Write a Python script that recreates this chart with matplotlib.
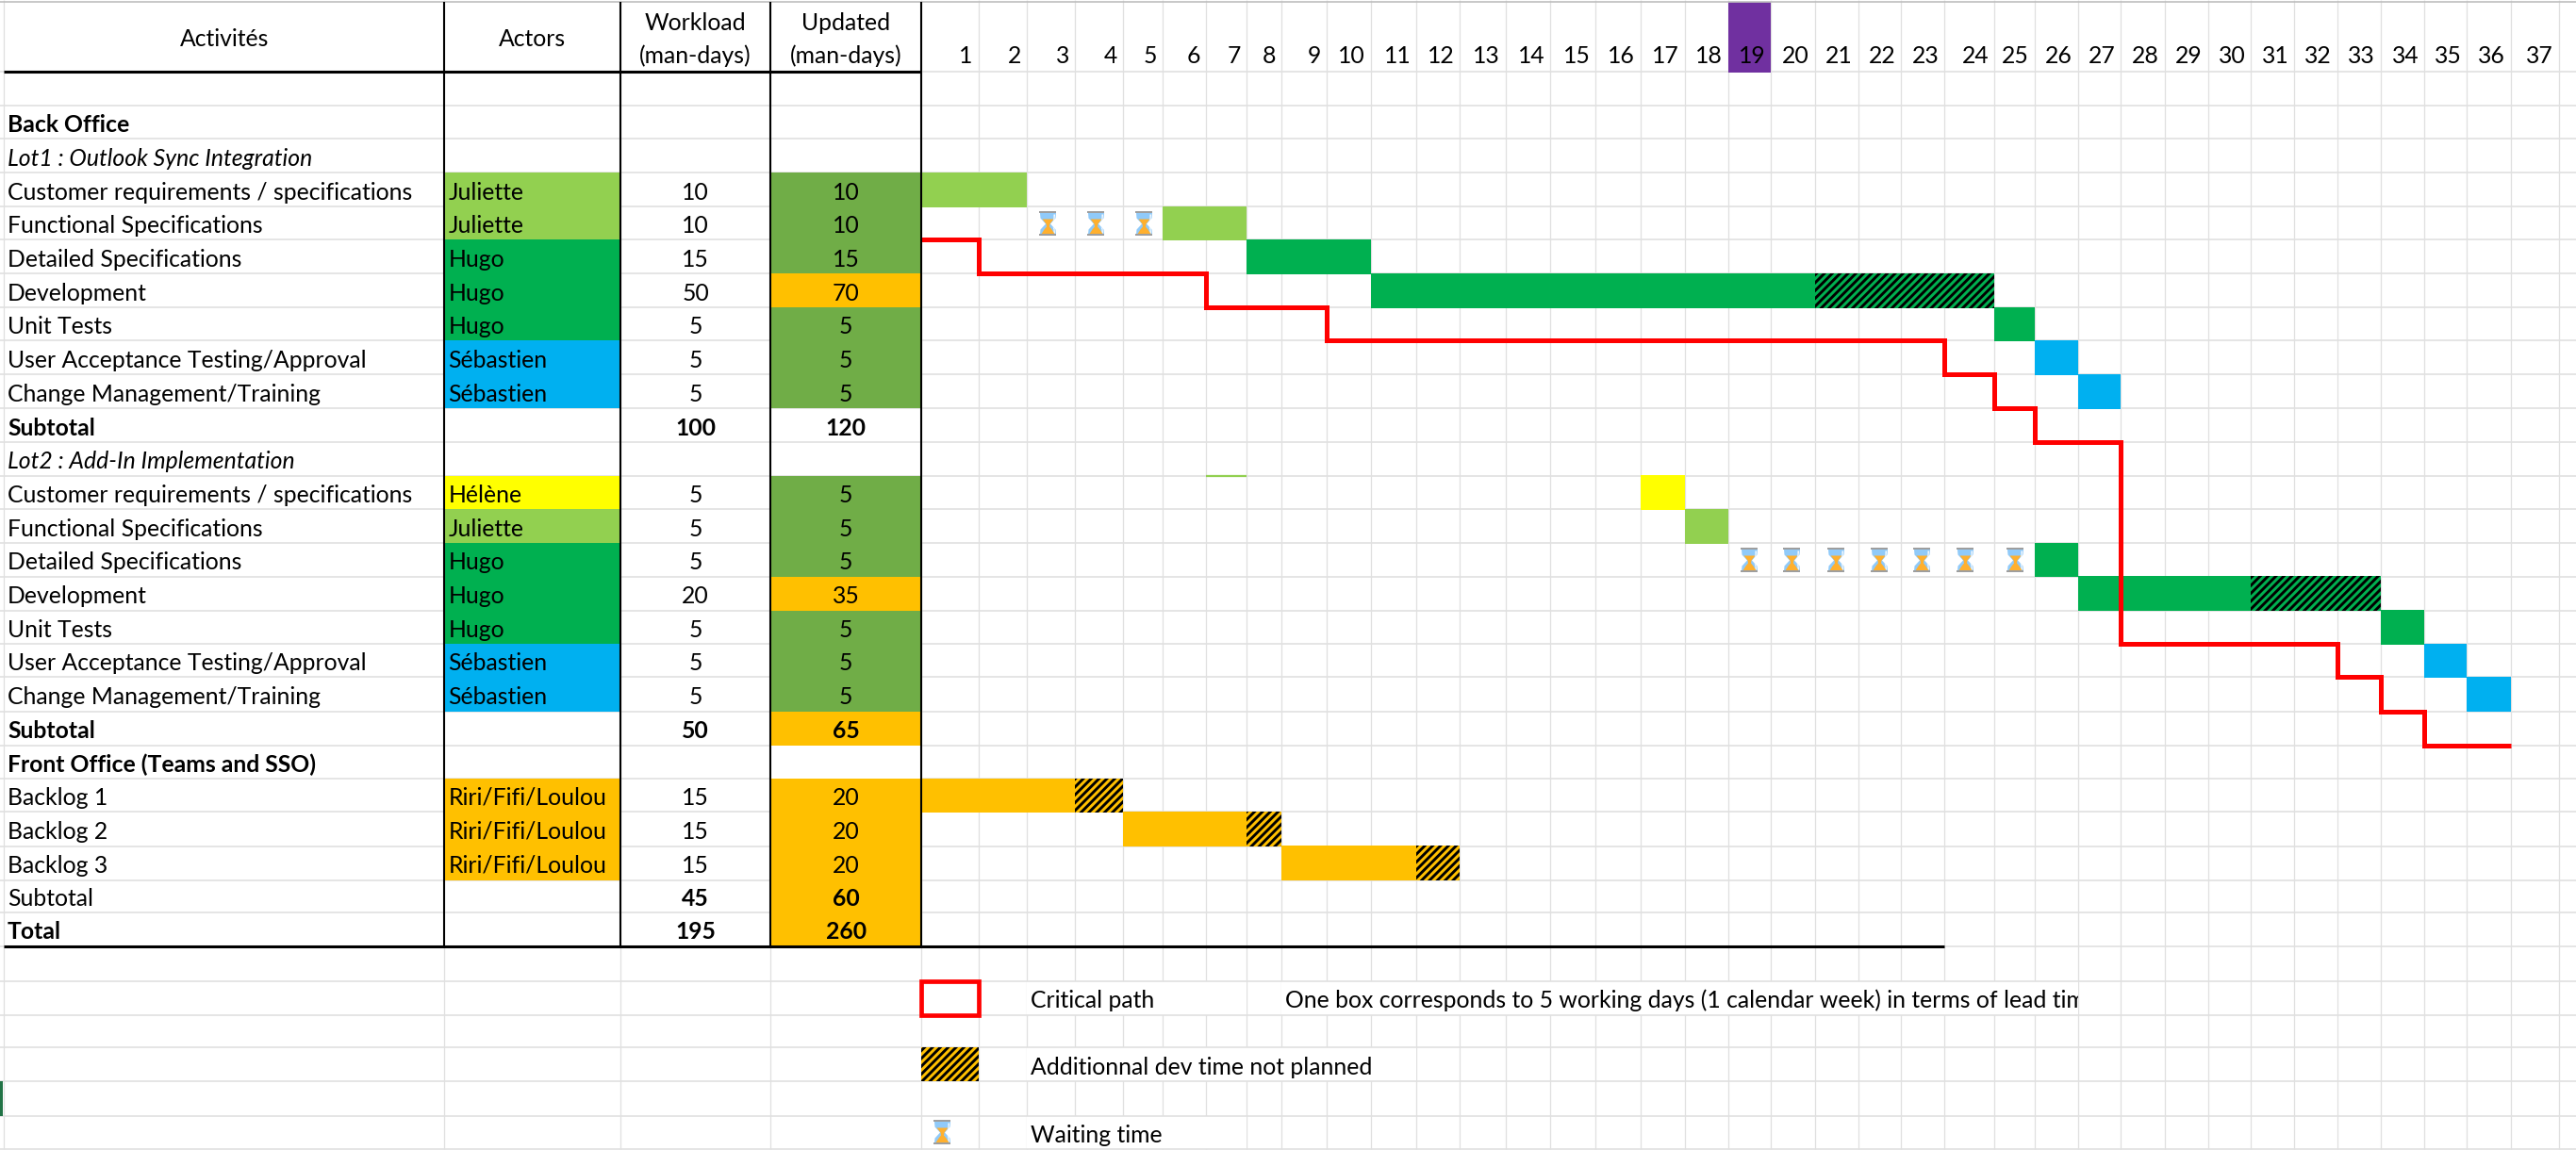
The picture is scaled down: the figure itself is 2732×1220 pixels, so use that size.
#plot.py
# Project planning sheet (Gantt in spreadsheet form)
import numpy as np
import matplotlib
matplotlib.use('Agg')
import matplotlib.pyplot as plt
from matplotlib.patches import Rectangle
from matplotlib.path import Path
from matplotlib.transforms import offset_copy

# Table content, from row 2 (Back Office) to row 26 (Total)
activities = ['Back Office', 'Lot1 : Outlook Sync Integration',
              'Customer requirements / specifications', 'Functional Specifications',
              'Detailed Specifications', 'Development', 'Unit Tests',
              'User Acceptance Testing/Approval', 'Change Management/Training', 'Subtotal',
              'Lot2 : Add-In Implementation',
              'Customer requirements / specifications', 'Functional Specifications',
              'Detailed Specifications', 'Development', 'Unit Tests',
              'User Acceptance Testing/Approval', 'Change Management/Training', 'Subtotal',
              'Front Office (Teams and SSO)', 'Backlog 1', 'Backlog 2', 'Backlog 3',
              'Subtotal', 'Total']
label_style = ['b', 'i', '', '', '', '', '', '', '', 'b', 'i', '', '', '', '', '', '', '', 'b',
               'b', '', '', '', '', 'b']
actors = ['', '', 'Juliette', 'Juliette', 'Hugo', 'Hugo', 'Hugo', 'Sébastien', 'Sébastien', '',
          '', 'Hélène', 'Juliette', 'Hugo', 'Hugo', 'Hugo', 'Sébastien', 'Sébastien', '',
          '', 'Riri/Fifi/Loulou', 'Riri/Fifi/Loulou', 'Riri/Fifi/Loulou', '', '']
workload = ['', '', 10, 10, 15, 50, 5, 5, 5, 100, '', 5, 5, 5, 20, 5, 5, 5, 50, '', 15, 15, 15, 45, 195]
updated = ['', '', 10, 10, 15, 70, 5, 5, 5, 120, '', 5, 5, 5, 35, 5, 5, 5, 65, '', 20, 20, 20, 60, 260]
updated_state = ['', '', 'ok', 'ok', 'ok', 'late', 'ok', 'ok', 'ok', '', '', 'ok', 'ok', 'ok', 'late',
                 'ok', 'ok', 'ok', 'late', '', 'late', 'late', 'late', 'late', 'late']
weeks = list(range(1, 38))
current_week = 19

# Gantt bars: row, weeks elapsed before start, planned weeks, unplanned weeks
bar_rows = [4, 5, 6, 7, 8, 9, 10, 13, 14, 15, 16, 17, 18, 19, 22, 23, 24]
bar_start = [0, 5, 7, 10, 24, 25, 26, 16, 17, 25, 26, 33, 34, 35, 0, 4, 8]
bar_planned = [2, 2, 3, 10, 1, 1, 1, 1, 1, 1, 4, 1, 1, 1, 3, 3, 3]
bar_extra = [0, 0, 0, 4, 0, 0, 0, 0, 0, 0, 3, 0, 0, 0, 1, 1, 1]

wait_rows = [5, 5, 5, 15, 15, 15, 15, 15, 15, 15]
wait_weeks = [3, 4, 5, 19, 20, 21, 22, 23, 24, 25]

# Critical path, week boundary and row boundary of each step
path_weeks = [0, 1, 6, 9, 23, 24, 25, 27, 32, 33, 34, 36]
path_rows = [6, 7, 8, 9, 10, 11, 12, 18, 19, 20, 21, 21]

ACTOR_COLORS = {'Juliette': '#92D050', 'Hugo': '#00B050', 'Sébastien': '#00B0F0',
                'Hélène': '#FFFF00', 'Riri/Fifi/Loulou': '#FFC000'}
STATE_COLORS = {'ok': '#70AD47', 'late': '#FFC000'}
GRID = '#E0E0E0'
FIRST_ROW = 2

# Sheet layout: pixel position of the column and row boundaries
X_EDGES = [0, 4, 471.4, 658, 817.3, 977.2, 1037.5, 1088.6, 1139.7, 1190.8, 1232.7, 1278.6,
           1321.6, 1359, 1406.6, 1453.7, 1501.9, 1548.4, 1596.6, 1644.3, 1691.9, 1739.5,
           1786.6, 1832.5, 1878.4, 1924.5, 1970.7, 2016.3, 2062.4, 2114.7, 2157.5, 2203.7,
           2249.3, 2295.5, 2341.6, 2387.2, 2433.4, 2478.5, 2524.6, 2570.8, 2616.4, 2662.5,
           2713.7, 2760]
Y_EDGES = [0, 76, 112.3, 147.3, 183.3, 219.3, 254.3, 290.3, 326.3, 361.3, 397.3, 433.3, 469.3,
           504.5, 540.4, 576.3, 611.7, 647.5, 683.4, 718.3, 754.7, 790.5, 826.4, 861.3, 897.6,
           933.5, 968.4, 1003.8, 1040.6, 1076.5, 1111.4, 1147.3, 1183.6, 1219, 1255]
x_index = np.arange(len(X_EDGES)) - 5.0
y_index = np.arange(len(Y_EDGES), dtype=float)


def x_forward(v):
    return np.interp(v, x_index, X_EDGES)


def x_inverse(p):
    return np.interp(p, X_EDGES, x_index)


def y_forward(v):
    return np.interp(v, y_index, Y_EDGES)


def y_inverse(p):
    return np.interp(p, Y_EDGES, y_index)


def glass_part(points):
    # the extra zero length segment keeps all the parts at the same marker scale
    verts = points + [points[0], (13.5, 13.5), (13.5, 13.5)]
    codes = [Path.MOVETO] + [Path.LINETO] * (len(points) - 1) + [Path.CLOSEPOLY, Path.MOVETO, Path.LINETO]
    return Path(verts, codes)


HOURGLASS = [
    ('#90CAF9', [(-8.5, 11.5), (8.5, 11.5), (8, 6), (2.5, 0), (8, -6), (8.5, -11.5), (-8.5, -11.5),
                 (-8, -6), (-2.5, 0), (-8, 6)]),
    ('#FFFFFF', [(6, 10), (7.5, 10), (7, 5), (5, 3), (6, 6)]),
    ('#FFFFFF', [(5, -3), (7, -5), (7.5, -10), (6, -10), (6, -6)]),
    ('#FFB02E', [(-6, 5), (6, 5), (2, 0), (1.5, -3), (4, -6), (7.5, -11.5), (-7.5, -11.5), (-4, -6),
                 (-1.5, -3), (-2, 0)]),
    ('#9E9E9E', [(-9.5, 11.5), (9.5, 11.5), (9.5, 13.5), (-9.5, 13.5)]),
    ('#9E9E9E', [(-9.5, -13.5), (9.5, -13.5), (9.5, -11.5), (-9.5, -11.5)]),
]


def draw_hourglass(ax, xs, ys, transform):
    for color, points in HOURGLASS:
        ax.plot(xs, ys, ls='none', marker=glass_part(points), ms=27 * 0.72, mew=0, mfc=color,
                transform=transform, zorder=6)


plt.rcParams['font.family'] = ['Lato', 'DejaVu Sans']
plt.rcParams['hatch.linewidth'] = 2.1
FONT_SIZE = 17.8
BASE = 0.79

fig = plt.figure(figsize=(27.32, 12.2), dpi=100)
ax = fig.add_axes([0, 0, 1, 1])
ax.set_xscale('function', functions=(x_forward, x_inverse))
ax.set_yscale('function', functions=(y_forward, y_inverse))
ax.set_xlim(-5, float(x_inverse(2732)))
ax.set_ylim(float(y_inverse(1220)), 0)
ax.set_autoscale_on(False)
ax.axis('off')

left_4 = offset_copy(ax.transData, fig=fig, x=4 * 0.72, y=0, units='points')
right_6 = offset_copy(ax.transData, fig=fig, x=-5.7 * 0.72, y=0, units='points')
glass_tf = offset_copy(ax.transData, fig=fig, x=22 * 0.72, y=0, units='points')

# Sheet grid
ax.vlines(x_index[1:-1], 0, 33, color=GRID, lw=0.95, zorder=1)
# merged legend cells hide the grid
ax.barh([28, 28, 30, 32], [5, 18, 9, 5], left=[2, 8, 2, 2], height=1, align='edge', color='white',
        linewidth=0, zorder=1.5)
ax.hlines(y_index[1:34], -5, 38, color=GRID, lw=1.2, zorder=2)
ax.hlines(0.02, -5, 38, color='#BFBFBF', lw=1.2, zorder=7)

# Header
ax.bar(current_week - 1, 1, 1, bottom=0.03, align='edge', color='#7030A0', linewidth=0, zorder=3)
ax.text(-3.5, 0.65, 'Activités', ha='center', va='baseline', fontsize=FONT_SIZE, zorder=8)
ax.text(-2.5, 0.65, 'Actors', ha='center', va='baseline', fontsize=FONT_SIZE, zorder=8)
for col, title in [(-1.5, 'Workload'), (-0.5, 'Updated')]:
    ax.text(col, 0.415, title, ha='center', va='baseline', fontsize=FONT_SIZE, zorder=8)
    ax.text(col, 0.885, '(man-days)', ha='center', va='baseline', fontsize=FONT_SIZE, zorder=8)
for w in weeks:
    ax.text(w, 0.885, str(w), ha='right', va='baseline', fontsize=FONT_SIZE, transform=right_6, zorder=8)

# Table rows
for i, label in enumerate(activities):
    row = FIRST_ROW + i
    base = row + BASE
    bold = 'bold' if label_style[i] == 'b' else 'normal'
    italic = 'italic' if label_style[i] == 'i' else 'normal'
    ax.text(-4, base, label, ha='left', va='baseline', fontsize=FONT_SIZE, fontweight=bold,
            fontstyle=italic, transform=left_4, zorder=8)
    if actors[i]:
        ax.barh(row, 1, left=-3, height=1, align='edge', color=ACTOR_COLORS[actors[i]], linewidth=0, zorder=3)
        ax.text(-3, base, actors[i], ha='left', va='baseline', fontsize=FONT_SIZE, transform=left_4, zorder=8)
    if updated_state[i]:
        ax.barh(row, 1, left=-1, height=1, align='edge', color=STATE_COLORS[updated_state[i]], linewidth=0, zorder=3)
    value_weight = 'bold' if label in ('Subtotal', 'Total') else 'normal'
    ax.text(-1.5, base, str(workload[i]), ha='center', va='baseline', fontsize=FONT_SIZE,
            fontweight=value_weight, zorder=8)
    ax.text(-0.5, base, str(updated[i]), ha='center', va='baseline', fontsize=FONT_SIZE,
            fontweight=value_weight, zorder=8)
# Front Office sits between two orange cells but stays white
ax.barh(21, 1, left=-1, height=1, align='edge', color='white', linewidth=0, zorder=3)

# Gantt bars
for row, start, planned, extra in zip(bar_rows, bar_start, bar_planned, bar_extra):
    color = ACTOR_COLORS[actors[row - FIRST_ROW]]
    ax.barh(row - 0.02, planned + extra, left=start, height=1.04, align='edge', color=color, linewidth=0, zorder=3)
    if extra:
        ax.barh(row - 0.02, extra, left=start + planned, height=1.04, align='edge', color=color,
                edgecolor='black', hatch='////', linewidth=0, zorder=3.5)
# thin leftover mark above Lot2 customer requirements
ax.hlines(13, 6, 7, color='#92D050', lw=1.6, zorder=3)

draw_hourglass(ax, [w - 1 for w in wait_weeks], [r + 0.5 for r in wait_rows], glass_tf)

ax.step(path_weeks, path_rows, where='post', color='#FF0000', lw=3.6, solid_joinstyle='miter',
        solid_capstyle='butt', zorder=5)

# Black table rules
ax.vlines([-3, -2, -1, 0], 0.03, 27, color='black', lw=1.5, zorder=7)
ax.hlines(1, -4, 0, color='black', lw=2.2, zorder=7)
ax.hlines(27, -4, 23, color='black', lw=2.2, zorder=7)

# Legend
ax.add_patch(Rectangle((0, 28), 1, 1, facecolor='none', edgecolor='#FF0000', lw=3.4, joinstyle='miter', zorder=6))
ax.barh(30, 1, left=0, height=1, align='edge', color='#FFC000', edgecolor='black', hatch='////', linewidth=0, zorder=3)
draw_hourglass(ax, [0], [32.5], glass_tf)
ax.text(2, 28 + BASE, 'Critical path', ha='left', va='baseline', fontsize=FONT_SIZE, transform=left_4, zorder=8)
ax.text(2, 30 + BASE, 'Additionnal dev time not planned', ha='left', va='baseline', fontsize=FONT_SIZE,
        transform=left_4, zorder=8)
ax.text(2, 32 + BASE, 'Waiting time', ha='left', va='baseline', fontsize=FONT_SIZE, transform=left_4, zorder=8)
note = ax.text(8, 28 + BASE, 'One box corresponds to 5 working days (1 calendar week) in terms of lead time',
               ha='left', va='baseline', fontsize=FONT_SIZE, transform=left_4, zorder=8)
# the sheet cuts this text at the end of its merged cell
note.set_clip_path(Rectangle((8, 28), 18, 1, transform=ax.transData))
note.set_clip_on(True)

# Selected row marker of the sheet
ax.barh(31, 0.75, left=-5, height=1, align='edge', color='#217346', linewidth=0, zorder=7)

fig.savefig('out.png', dpi=100)
